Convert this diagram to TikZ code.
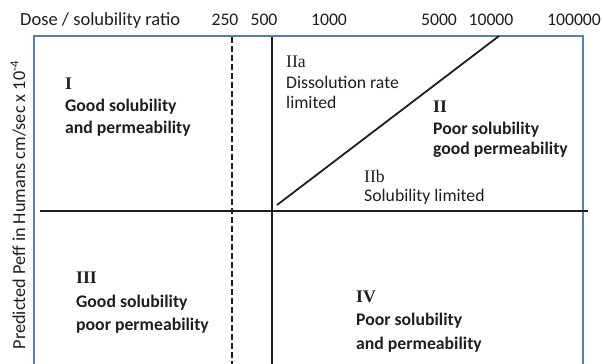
\documentclass[tikz,border=0pt]{standalone}
\usepackage{fontspec}
\setmainfont{Carlito}
\newfontfamily\romanfont{Liberation Serif}
\definecolor{framblue}{HTML}{4F7FBD}
\definecolor{ink}{HTML}{1E1E1E}
\begin{document}
\begin{tikzpicture}[x=1pt,y=-1pt,
  txt/.style={anchor=base west, inner sep=0pt, text=ink, font=\fontsize{17.7}{21}\selectfont},
  boldtxt/.style={txt, font=\fontsize{17.7}{21}\selectfont\bfseries},
  numeral/.style={txt, font=\fontsize{17.7}{21}\romanfont\bfseries},
  subnumeral/.style={txt, font=\fontsize{17.7}{21}\romanfont},
  tick/.style={anchor=base, inner sep=0pt, text=ink, font=\fontsize{17.7}{21}\selectfont},
  frame/.style={draw=framblue, line width=2pt},
  divider/.style={draw=ink, line width=1.8pt},
  softdiv/.style={draw=ink, line width=1.6pt, dash pattern=on 6pt off 3pt}]
\useasboundingbox (0,0) rectangle (603,364);

% corner points of the chart frame (open at the bottom)
\coordinate (fbl) at (34,366);
\coordinate (ftl) at (34,35.5);
\coordinate (ftr) at (583,35.5);
\coordinate (fbr) at (583,366);
\draw[frame] (fbl) -- (ftl) -- (ftr) -- (fbr);

% permeability divider
\coordinate (hl) at (40,211);
\coordinate (hr) at (588,211);
\draw[divider] (hl) -- (hr);

% dose/solubility dividers at 250 and 500
\coordinate (dt) at (232,37);
\coordinate (db) at (232,366);
\draw[softdiv] (dt) -- (db);
\coordinate (st) at (272,37);
\coordinate (sb) at (272,366);
\draw[divider] (st) -- (sb);

% class II split
\coordinate (ga) at (277,205);
\coordinate (gb) at (499,36);
\draw[divider] (ga) -- (gb);

% top scale
\node[txt, font=\fontsize{18.5}{21}\selectfont] (axx) at (20,25) {Dose / solubility ratio};
\node[tick] (t250) at (225,25) {250};
\node[tick] (t500) at (264,25) {500};
\node[tick] (t1k) at (329,25) {1000};
\node[tick] (t5k) at (439,25) {5000};
\node[tick] (t10k) at (491,25) {10000};
\node[tick] (t100k) at (574,25) {100000};

% vertical axis
\node[anchor=base, inner sep=0pt, text=ink, rotate=90, font=\fontsize{18.2}{21}\selectfont]
  (axy) at (25,205) {Predicted Peff in Humans cm/sec x 10\textsuperscript{-4}};

% class I
\node[numeral] (c1) at (65,89) {I};
\node[boldtxt] (c1a) at (65,111) {Good solubility};
\node[boldtxt] (c1b) at (65,133) {and permeability};

% class IIa
\node[subnumeral] (c2a) at (286,67) {IIa};
\node[txt] (c2aa) at (286,88) {Dissolution rate};
\node[txt] (c2ab) at (286,108) {limited};

% class II
\node[numeral] (c2) at (433,112) {II};
\node[boldtxt] (c2x) at (433,134) {Poor solubility};
\node[boldtxt] (c2y) at (433,154) {good permeability};

% class IIb
\node[subnumeral] (c2b) at (364,182) {IIb};
\node[txt] (c2ba) at (364,201) {Solubility limited};

% class III
\node[numeral] (c3) at (76,283) {III};
\node[boldtxt] (c3a) at (76,307) {Good solubility};
\node[boldtxt] (c3b) at (76,330) {poor permeability};

% class IV
\node[numeral] (c4) at (356,302) {IV};
\node[boldtxt] (c4a) at (356,325) {Poor solubility};
\node[boldtxt] (c4b) at (356,349) {and permeability};
\end{tikzpicture}
\end{document}
